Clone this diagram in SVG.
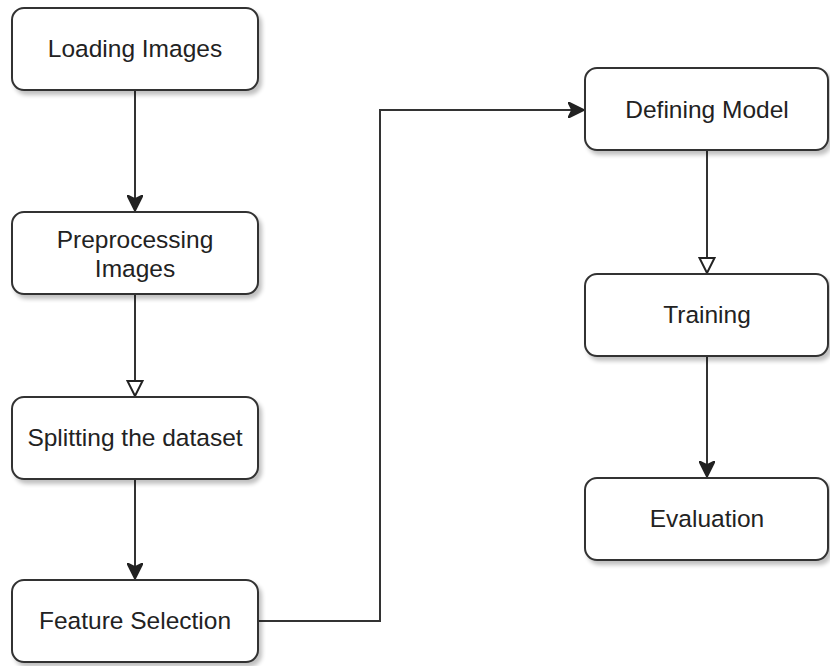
<svg xmlns="http://www.w3.org/2000/svg" width="830" height="666" viewBox="0 0 830 666">
<defs>
<filter id="sh" x="-10%" y="-10%" width="130%" height="140%">
<feGaussianBlur in="SourceAlpha" stdDeviation="2"/>
<feOffset dx="3" dy="4" result="b"/>
<feComponentTransfer><feFuncA type="linear" slope="0.25"/></feComponentTransfer>
<feMerge><feMergeNode/><feMergeNode in="SourceGraphic"/></feMerge>
</filter>
<marker id="af" viewBox="0 0 10 10" refX="10" refY="5" markerWidth="16" markerHeight="16" markerUnits="userSpaceOnUse" orient="auto">
<path d="M0,0 L10,5 L0,10 L2.5,5 Z" fill="#222" stroke="#222" stroke-width="1"/>
</marker>
<marker id="ao" viewBox="0 0 12 12" refX="11" refY="6" markerWidth="18" markerHeight="18" markerUnits="userSpaceOnUse" orient="auto">
<path d="M1,1 L11,6 L1,11 Z" fill="#fff" stroke="#222" stroke-width="1.3"/>
</marker>
<style>
.n rect{fill:#fff;stroke:#333;stroke-width:2}
.n text{font-family:"Liberation Sans",Arial,sans-serif;font-size:24.5px;fill:#222;text-anchor:middle}
.c path{fill:none;stroke:#333;stroke-width:2}
</style>
</defs>
<g class="c">
<path d="M135,90 V211" marker-end="url(#af)"/>
<path d="M135,294 V396" marker-end="url(#ao)"/>
<path d="M135,479 V579" marker-end="url(#af)"/>
<path d="M258,621 H380 V110 H584" marker-end="url(#af)"/>
<path d="M707,150 V273" marker-end="url(#ao)"/>
<path d="M707,356 V477" marker-end="url(#af)"/>
</g>
<g id="n1" class="n"><rect x="12" y="8" width="246" height="82" rx="12" filter="url(#sh)"/><text x="135" y="57">Loading Images</text></g>
<g id="n2" class="n"><rect x="12" y="212" width="246" height="82" rx="12" filter="url(#sh)"/><text x="135" y="248">Preprocessing</text><text x="135" y="277">Images</text></g>
<g id="n3" class="n"><rect x="12" y="397" width="246" height="82" rx="12" filter="url(#sh)"/><text x="135" y="446">Splitting the dataset</text></g>
<g id="n4" class="n"><rect x="12" y="580" width="246" height="82" rx="12" filter="url(#sh)"/><text x="135" y="629">Feature Selection</text></g>
<g id="n5" class="n"><rect x="585" y="68" width="243" height="82" rx="12" filter="url(#sh)"/><text x="707" y="118">Defining Model</text></g>
<g id="n6" class="n"><rect x="585" y="274" width="243" height="82" rx="12" filter="url(#sh)"/><text x="707" y="323">Training</text></g>
<g id="n7" class="n"><rect x="585" y="478" width="243" height="82" rx="12" filter="url(#sh)"/><text x="707" y="527">Evaluation</text></g>
</svg>
